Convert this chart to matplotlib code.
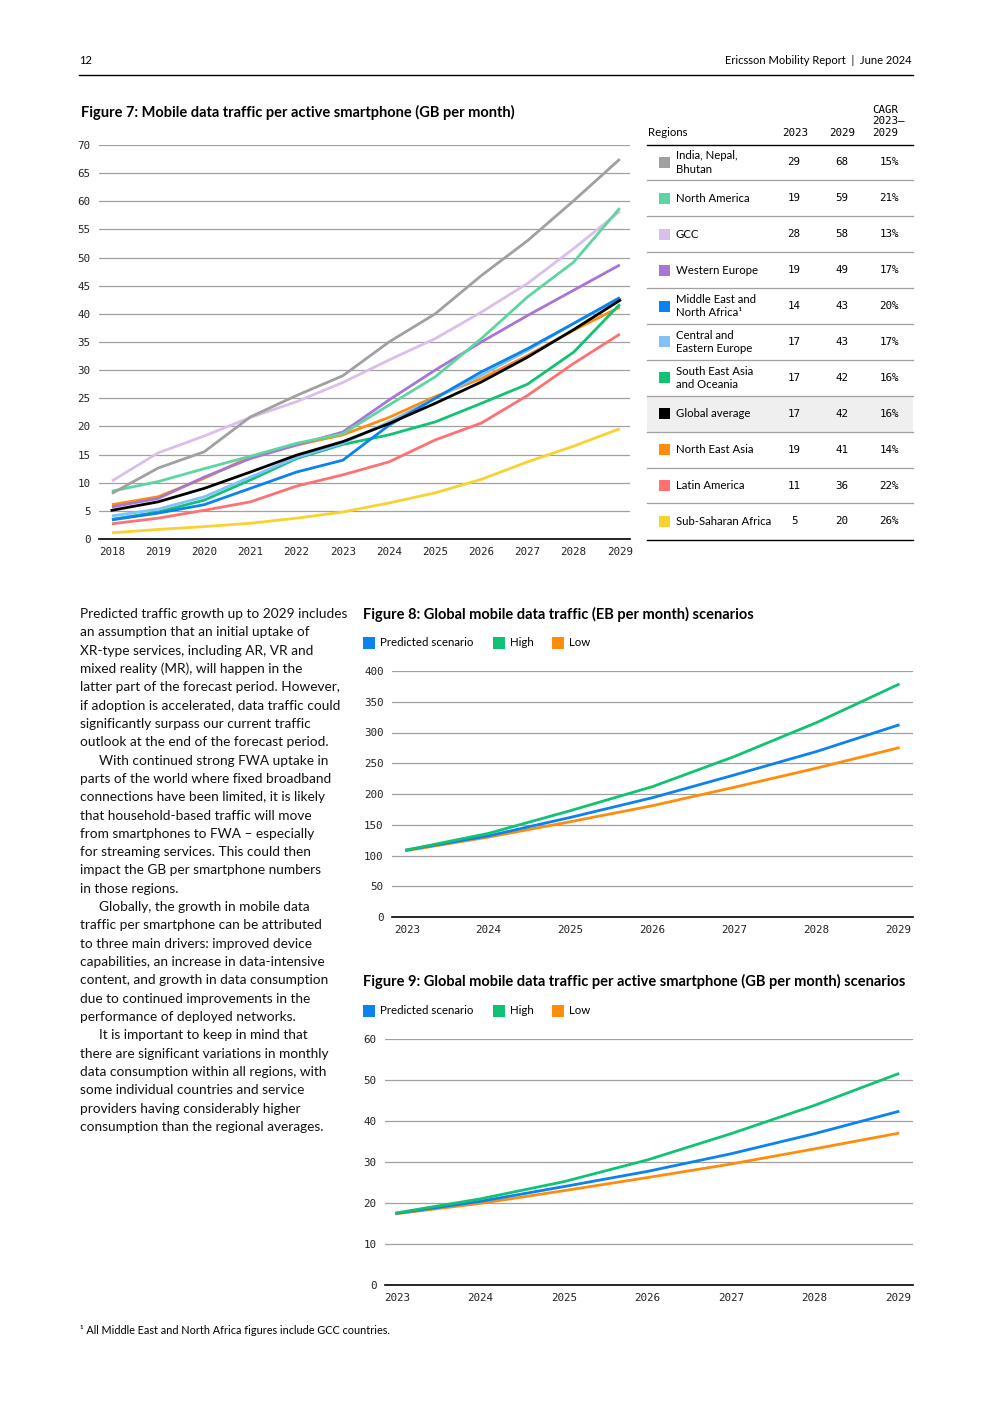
import matplotlib
matplotlib.use('Agg')
import matplotlib.pyplot as plt
from matplotlib.patches import Rectangle

W, H = 992, 1403

# ---- Figure 7 data: GB per month per active smartphone ----
years7 = list(range(2018, 2030))
regions = ['India, Nepal,\nBhutan', 'North America', 'GCC', 'Western Europe',
           'Middle East and\nNorth Africa¹', 'Central and\nEastern Europe',
           'South East Asia\nand Oceania', 'Global average', 'North East Asia',
           'Latin America', 'Sub-Saharan Africa']
colors7 = ['#a0a0a0', '#5cd6a0', '#d9bfea', '#a874d6', '#0a82f0', '#82c0f7',
           '#0fc373', '#000000', '#ff8c0a', '#ff7070', '#fad22d']
v2023 = ['29', '19', '28', '19', '14', '17', '17', '17', '19', '11', '5']
v2029 = ['68', '59', '58', '49', '43', '43', '42', '42', '41', '36', '20']
cagr = ['15%', '21%', '13%', '17%', '20%', '17%', '16%', '16%', '14%', '22%', '26%']

india = [8.1, 12.6, 15.5, 21.7, 25.5, 29.0, 35.0, 40.0, 46.8, 53.0, 60.1, 67.5]
north_america = [8.5, 10.2, 12.5, 14.7, 17.0, 18.7, 23.8, 28.8, 35.6, 43.0, 49.2, 58.8]
gcc = [10.3, 15.3, 18.3, 21.6, 24.4, 27.8, 31.8, 35.6, 40.3, 45.4, 51.6, 58.2]
western_europe = [5.7, 7.2, 11.0, 14.3, 16.7, 19.0, 24.7, 30.0, 35.0, 39.7, 44.2, 48.7]
mena = [3.4, 4.6, 6.1, 9.0, 11.9, 14.0, 20.2, 25.0, 29.7, 33.8, 38.3, 42.9]
cee = [4.1, 5.3, 7.5, 11.0, 14.5, 17.0, 20.8, 25.0, 29.1, 33.5, 38.3, 42.7]
sea = [3.5, 4.8, 6.9, 10.5, 14.3, 16.8, 18.5, 20.8, 24.1, 27.5, 33.2, 41.7]
global_avg = [5.1, 6.6, 9.0, 11.9, 14.9, 17.3, 20.5, 24.1, 27.9, 32.3, 37.2, 42.4]
nea = [6.1, 7.5, 10.8, 14.6, 16.7, 18.5, 21.6, 25.3, 28.5, 32.6, 37.1, 41.2]
latam = [2.7, 3.7, 5.1, 6.6, 9.4, 11.4, 13.7, 17.6, 20.6, 25.5, 31.2, 36.4]
ssa = [1.1, 1.7, 2.2, 2.8, 3.7, 4.8, 6.4, 8.2, 10.6, 13.7, 16.5, 19.6]
series7 = [india, north_america, gcc, western_europe, mena, cee, sea,
           global_avg, nea, latam, ssa]

# ---- Figure 8 / 9 scenarios ----
years89 = list(range(2023, 2030))
scen_names = ['Predicted scenario', 'High', 'Low']
scen_colors = ['#0a82f0', '#0fc373', '#ff8c0a']
eb_predicted = [109, 132, 162, 194, 231, 269, 312]
eb_high = [109, 136, 173, 212, 261, 316, 378]
eb_low = [108, 130, 155, 181, 211, 242, 275]
gb_predicted = [17.5, 20.4, 24.0, 27.7, 32.0, 36.9, 42.3]
gb_high = [17.6, 21.0, 25.2, 30.5, 36.9, 43.8, 51.5]
gb_low = [17.4, 19.9, 23.0, 26.2, 29.5, 33.2, 37.0]

body = [
    (0, 'Predicted traffic growth up to 2029 includes'),
    (0, 'an assumption that an initial uptake of'),
    (0, 'XR-type services, including AR, VR and'),
    (0, 'mixed reality (MR), will happen in the'),
    (0, 'latter part of the forecast period. However,'),
    (0, 'if adoption is accelerated, data traffic could'),
    (0, 'significantly surpass our current traffic'),
    (0, 'outlook at the end of the forecast period.'),
    (1, 'With continued strong FWA uptake in'),
    (0, 'parts of the world where fixed broadband'),
    (0, 'connections have been limited, it is likely'),
    (0, 'that household-based traffic will move'),
    (0, 'from smartphones to FWA – especially'),
    (0, 'for streaming services. This could then'),
    (0, 'impact the GB per smartphone numbers'),
    (0, 'in those regions.'),
    (1, 'Globally, the growth in mobile data'),
    (0, 'traffic per smartphone can be attributed'),
    (0, 'to three main drivers: improved device'),
    (0, 'capabilities, an increase in data-intensive'),
    (0, 'content, and growth in data consumption'),
    (0, 'due to continued improvements in the'),
    (0, 'performance of deployed networks.'),
    (1, 'It is important to keep in mind that'),
    (0, 'there are significant variations in monthly'),
    (0, 'data consumption within all regions, with'),
    (0, 'some individual countries and service'),
    (0, 'providers having considerably higher'),
    (0, 'consumption than the regional averages.'),
]

SANS = ['Lato', 'DejaVu Sans']
MONO = 'DejaVu Sans Mono'
GRID = '#a0a0a0'

fig = plt.figure(figsize=(W / 100, H / 100), dpi=100)
page = fig.add_axes([0, 0, 1, 1])
page.set_xlim(0, W)
page.set_ylim(H, 0)
page.axis('off')


def box(x0, x1, ytop, ybot):
    return [x0 / W, 1 - ybot / H, (x1 - x0) / W, (ybot - ytop) / H]


def style_axes(ax, yticks, xticks):
    ax.set_yticks(yticks)
    ax.set_xticks(xticks)
    ax.set_yticklabels([str(t) for t in yticks], family=MONO, fontsize=7.8, color='#222222')
    ax.set_xticklabels([str(t) for t in xticks], family=MONO, fontsize=7.8, color='#222222')
    ax.tick_params(length=0, pad=6)
    ax.grid(axis='y', color=GRID, lw=0.9)
    ax.set_axisbelow(True)
    for s in ['top', 'right', 'left']:
        ax.spines[s].set_visible(False)
    ax.spines['bottom'].set_color('black')
    ax.spines['bottom'].set_linewidth(1.2)
    ax.spines['bottom'].set_zorder(5)


# header
page.text(79, 60, '12', fontsize=8, family=SANS, va='center')
page.text(912, 60, 'Ericsson Mobility Report  |  June 2024', fontsize=8,
          family=SANS, va='center', ha='right')
page.plot([79, 913], [75, 75], color='black', lw=1)

# ---- Figure 7 ----
page.text(81, 112, 'Figure 7: Mobile data traffic per active smartphone (GB per month)',
          fontsize=10.5, family=SANS, weight='bold', va='center')
ax7 = fig.add_axes(box(99, 630, 145, 539))
for i in reversed(range(len(series7))):
    if regions[i] == 'Global average':
        continue
    ax7.plot(years7, series7[i], color=colors7[i], lw=2.0, solid_capstyle='butt')
ax7.plot(years7, global_avg, color='black', lw=2.0)
ax7.set_xlim(2017.72, 2029.22)
ax7.set_ylim(0, 70)
style_axes(ax7, list(range(0, 71, 5)), years7)

# table
TFS = 8.2
page.text(648, 133, 'Regions', fontsize=TFS, family=SANS, va='center')
page.text(795, 133, '2023', fontsize=7.8, family=MONO, va='center', ha='center')
page.text(842, 133, '2029', fontsize=7.8, family=MONO, va='center', ha='center')
for j, part in enumerate(['CAGR', '2023–', '2029']):
    page.text(872, 110 + j * 11.5, part, fontsize=7.8, family=MONO, va='center', ha='left')
page.plot([647, 913], [144.5, 144.5], color='black', lw=1)
row_h = 35.9
for i, name in enumerate(regions):
    top = 144.5 + i * row_h
    yc = top + row_h / 2
    if name == 'Global average':
        page.add_patch(Rectangle((647, top), 266, row_h, color='#efefef', lw=0))
    page.add_patch(Rectangle((659, yc - 5.5), 11, 11, color=colors7[i], lw=0))
    page.text(676, yc, name, fontsize=TFS, family=SANS, va='center', linespacing=1.25)
    page.text(794, yc, v2023[i], fontsize=7.8, family=MONO, va='center', ha='center')
    page.text(842, yc, v2029[i], fontsize=7.8, family=MONO, va='center', ha='center')
    page.text(889, yc, cagr[i], fontsize=7.8, family=MONO, va='center', ha='center')
    if i < len(regions) - 1:
        page.plot([647, 913], [top + row_h, top + row_h], color=GRID, lw=0.9)
page.plot([647, 913], [539.5, 539.5], color='black', lw=1)

# body text
for k, (indent, line) in enumerate(body):
    page.text(80 + 19 * indent, 614 + k * 18.32, line, fontsize=9.8, family=SANS,
              va='center', color='#111111')


def legend(ytxt):
    xs = [363, 493, 552]
    for x, name, c in zip(xs, scen_names, scen_colors):
        page.add_patch(Rectangle((x, ytxt - 6), 12, 12, color=c, lw=0))
        page.text(x + 17, ytxt, name, fontsize=8.3, family=SANS, va='center')


# ---- Figure 8 ----
page.text(363, 614, 'Figure 8: Global mobile data traffic (EB per month) scenarios',
          fontsize=10.5, family=SANS, weight='bold', va='center')
legend(643)
ax8 = fig.add_axes(box(392, 913, 671, 917))
for vals, c in zip([eb_low, eb_predicted, eb_high], [scen_colors[2], scen_colors[0], scen_colors[1]]):
    ax8.plot(years89, vals, color=c, lw=2.0)
ax8.set_xlim(2022.82, 2029.18)
ax8.set_ylim(0, 400)
style_axes(ax8, list(range(0, 401, 50)), years89)

# ---- Figure 9 ----
page.text(363, 981, 'Figure 9: Global mobile data traffic per active smartphone (GB per month) scenarios',
          fontsize=10.5, family=SANS, weight='bold', va='center')
legend(1011)
ax9 = fig.add_axes(box(385, 913, 1039, 1285))
for vals, c in zip([gb_low, gb_predicted, gb_high], [scen_colors[2], scen_colors[0], scen_colors[1]]):
    ax9.plot(years89, vals, color=c, lw=2.0)
ax9.set_xlim(2022.86, 2029.18)
ax9.set_ylim(0, 60)
style_axes(ax9, list(range(0, 61, 10)), years89)

# footnote
page.text(80, 1331, '¹ All Middle East and North Africa figures include GCC countries.',
          fontsize=7.8, family=SANS, va='center')

fig.savefig('out.png', dpi=100)
